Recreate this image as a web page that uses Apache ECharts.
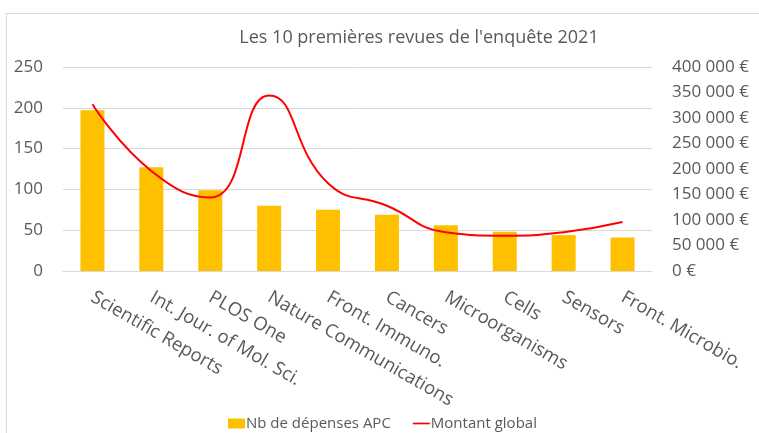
<!DOCTYPE html>
<html>
<head>
<meta charset="utf-8">
<script src="https://cdn.jsdelivr.net/npm/echarts@6/dist/echarts.min.js"></script>
<style>
  html, body { margin: 0; padding: 0; background: #fff; }
  #chart { width: 759px; height: 433px; }
</style>
</head>
<body>
<div id="chart"></div>
<script>
// les 10 premières revues
const revues = ['Scientific Reports', 'Int. Jour. of Mol. Sci.', 'PLOS One', 'Nature Communications',
  'Front. Immuno.', 'Cancers', 'Microorganisms', 'Cells', 'Sensors', 'Front. Microbio.'];
// nombre de dépenses APC (axe gauche)
const nbDepenses = [197, 127, 99, 80, 75, 69, 56, 48, 44, 41];
// montant global en euros (axe droit)
const montantGlobal = [327000, 196000, 144000, 344000, 172000, 128000, 76000, 69000, 76000, 96000];

const police = '"Open Sans", sans-serif';
const gris = '#595959';

const chart = echarts.init(document.getElementById('chart'));
chart.setOption({
  animation: false,
  textStyle: { fontFamily: police },
  title: {
    text: "Les 10 premières revues de l'enquête 2021",
    left: 414,
    textAlign: 'center',
    top: 24,
    textStyle: { color: gris, fontSize: 18, fontWeight: 'normal', fontFamily: police }
  },
  // cadre du graphique (coupé à droite et en bas)
  graphic: [
    { type: 'line', shape: { x1: 6, y1: 13.5, x2: 759, y2: 13.5 }, style: { stroke: '#D9D9D9', lineWidth: 1 } },
    { type: 'line', shape: { x1: 6.5, y1: 13, x2: 6.5, y2: 433 }, style: { stroke: '#D9D9D9', lineWidth: 1 } }
  ],
  legend: {
    top: 416,
    left: 228,
    padding: 0,
    itemGap: 22,
    itemWidth: 17,
    itemHeight: 10,
    textStyle: { color: gris, fontSize: 15, fontFamily: police, padding: [0, 0, 0, -4] },
    data: [
      { name: 'Nb de dépenses APC', icon: 'rect' },
      { name: 'Montant global', icon: 'path://M0,4 L20,4 L20,6 L0,6 Z' }
    ]
  },
  grid: { left: 63, right: 107, top: 67, bottom: 162 },
  xAxis: {
    type: 'category',
    data: revues,
    axisTick: { show: false },
    axisLine: { lineStyle: { color: '#D9D9D9' } },
    axisLabel: { rotate: -30, interval: 0, margin: 25, color: gris, fontSize: 18.5, fontFamily: police }
  },
  yAxis: [
    {
      type: 'value',
      min: 0, max: 250, interval: 50,
      axisLabel: { margin: 20, color: gris, fontSize: 17, fontFamily: police },
      splitLine: { lineStyle: { color: '#D9D9D9' } }
    },
    {
      type: 'value',
      min: 0, max: 400000, interval: 50000,
      position: 'right',
      splitLine: { show: false },
      axisLabel: {
        margin: 20, color: gris, fontSize: 17, fontFamily: police,
        formatter: v => (v === 0 ? '0' : String(v).replace(/\B(?=(\d{3})+(?!\d))/g, ' ')) + ' €'
      }
    }
  ],
  series: [
    {
      name: 'Nb de dépenses APC',
      type: 'bar',
      data: nbDepenses,
      barWidth: 24,
      itemStyle: { color: '#FFC000' }
    },
    {
      name: 'Montant global',
      type: 'line',
      yAxisIndex: 1,
      data: montantGlobal,
      smooth: 0.5,
      showSymbol: false,
      lineStyle: { color: '#FF0000', width: 2 },
      itemStyle: { color: '#FF0000' }
    }
  ]
});
</script>
</body>
</html>
